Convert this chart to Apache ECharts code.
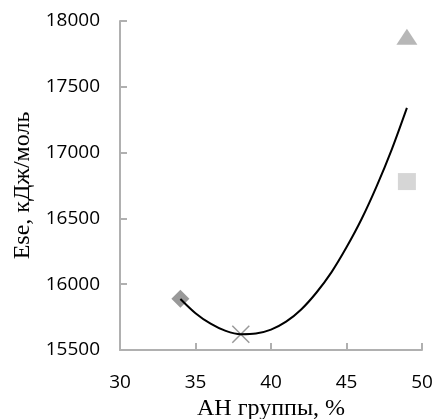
<!DOCTYPE html>
<html>
<head>
<meta charset="utf-8">
<script src="https://cdn.jsdelivr.net/npm/echarts@6/dist/echarts.min.js"></script>
<style>
  html, body { margin: 0; padding: 0; background: #fff; }
  #chart { width: 436px; height: 419px; }
</style>
</head>
<body>
<div id="chart"></div>
<script>
// точки (АН группы, %; Ese, кДж/моль)
var diamondPts = [[34, 15890]];
var crossPts = [[38, 15620]];
var trianglePts = [[49, 17880]];
var squarePts = [[49, 16780]];
// линия тренда
var trendPts = [
  [34, 15888], [35, 15780], [36, 15700], [37, 15645], [38, 15620],
  [39, 15625], [40, 15655], [41, 15715], [42, 15808], [43, 15935],
  [44, 16090], [45, 16280], [46, 16495], [47, 16745], [48, 17025], [49, 17340]
];

var xTicks = { min: 30, max: 50, interval: 5 };
var yTicks = { min: 15500, max: 18000, interval: 500 };

var axisGray = "#b0b0b0";
var chart = echarts.init(document.getElementById("chart"));

chart.setOption({
  animation: false,
  grid: { left: 120, right: 14, top: 21, bottom: 69, outerBoundsMode: "none", containLabel: false },
  xAxis: {
    type: "value",
    min: xTicks.min,
    max: xTicks.max,
    interval: xTicks.interval,
    name: "АН группы, %",
    nameLocation: "middle",
    nameGap: 45,
    nameTextStyle: { fontFamily: "Liberation Serif", fontSize: 24, color: "#000" },
    axisLine: { show: true, lineStyle: { color: axisGray, width: 2 } },
    axisTick: { show: true, inside: true, length: 7, lineStyle: { color: axisGray, width: 2 } },
    axisLabel: { fontFamily: "Open Sans", fontSize: 19, color: "#000", margin: 23 },
    splitLine: { show: false }
  },
  yAxis: {
    type: "value",
    min: yTicks.min,
    max: yTicks.max,
    interval: yTicks.interval,
    name: "Ese, кДж/моль",
    nameLocation: "middle",
    nameGap: 82,
    nameTextStyle: { fontFamily: "Liberation Serif", fontSize: 24, color: "#000" },
    axisLine: { show: true, lineStyle: { color: axisGray, width: 2 } },
    axisTick: { show: true, inside: true, length: 7, lineStyle: { color: axisGray, width: 2 } },
    axisLabel: {
      fontFamily: "Open Sans", fontSize: 19, color: "#000", margin: 20,
      formatter: function (v) { return String(v); }
    },
    splitLine: { show: false }
  },
  series: [
    {
      type: "line",
      data: trendPts,
      smooth: 0.3,
      showSymbol: false,
      lineStyle: { color: "#000", width: 2 },
      z: 3
    },
    {
      type: "scatter",
      data: diamondPts,
      symbol: "diamond",
      symbolSize: [18, 18],
      itemStyle: { color: "#7f7f7f" },
      z: 2
    },
    {
      type: "scatter",
      data: crossPts,
      symbol: "path://M0,0L10,10M10,0L0,10",
      symbolSize: 17,
      itemStyle: { color: "none", borderColor: "#7f7f7f", borderWidth: 1.5 },
      z: 2
    },
    {
      type: "scatter",
      data: trianglePts,
      symbol: "triangle",
      symbolSize: [21, 16],
      itemStyle: { color: "#a5a5a5" },
      z: 2
    },
    {
      type: "scatter",
      data: squarePts,
      symbol: "rect",
      symbolSize: [18, 17],
      itemStyle: { color: "#cccccc" },
      z: 2
    }
  ]
});
</script>
</body>
</html>
